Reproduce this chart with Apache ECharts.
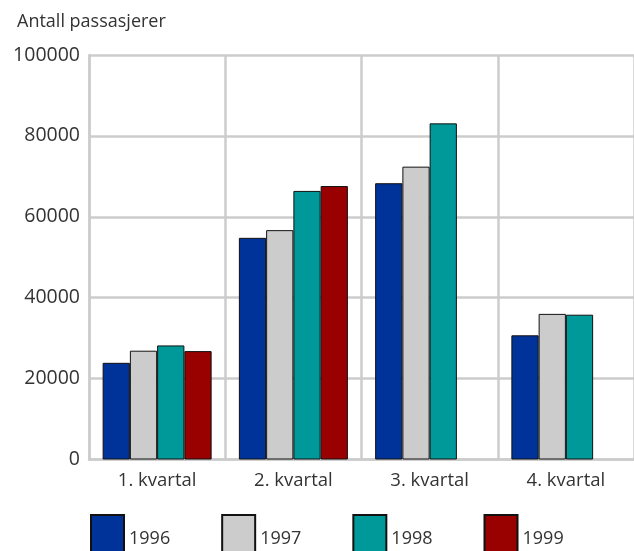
<!DOCTYPE html>
<html>
<head>
<meta charset="utf-8">
<script src="https://cdn.jsdelivr.net/npm/echarts@6/dist/echarts.min.js"></script>
<style>html,body{margin:0;padding:0;background:#fff}#c{width:634px;height:551px}</style>
</head>
<body>
<div id="c"></div>
<script>
const categories = ['1. kvartal', '2. kvartal', '3. kvartal', '4. kvartal'];
const years = ['1996', '1997', '1998', '1999'];
const v1996 = [23900, 54800, 68300, 30700];
const v1997 = [26900, 56700, 72400, 36000];
const v1998 = [28200, 66400, 83100, 35800];
const v1999 = [26800, 67600, null, null];
const yTicks = { min: 0, max: 100000, interval: 20000 };
const colors = ['#003399', '#cccccc', '#009999', '#990000'];
const values = [v1996, v1997, v1998, v1999];

const font = '"Open Sans", "Noto Sans", sans-serif';
const chart = echarts.init(document.getElementById('c'));
chart.setOption({
  animation: false,
  title: {
    text: 'Antall passasjerer', left: 17, top: 13, padding: 0,
    textStyle: { fontFamily: font, fontSize: 18, fontWeight: 'normal', color: '#333' }
  },
  legend: {
    left: 90, top: 514, padding: 0, itemWidth: 33, itemHeight: 48, itemGap: 51,
    icon: 'rect',
    textStyle: { fontFamily: font, fontSize: 18, color: '#333' },
    data: years
  },
  grid: { left: 89, right: -9, top: 55, bottom: 91.5 },
  xAxis: {
    type: 'category', data: categories,
    axisLine: { lineStyle: { color: '#cccccc', width: 2.5 } },
    axisTick: { show: false },
    axisLabel: { fontFamily: font, fontSize: 18.5, color: '#333', margin: 12 },
    splitLine: { show: true, interval: 0, lineStyle: { color: '#cccccc', width: 2.5 } }
  },
  yAxis: {
    type: 'value', min: yTicks.min, max: yTicks.max, interval: yTicks.interval,
    axisLine: { show: true, lineStyle: { color: '#cccccc', width: 2.5 } },
    axisTick: { show: false },
    axisLabel: { fontFamily: font, fontSize: 19.5, color: '#333', margin: 9, formatter: v => String(v) },
    splitLine: { lineStyle: { color: '#cccccc', width: 2.5 } }
  },
  series: years.map((y, i) => ({
    name: y, type: 'bar', data: values[i],
    barGap: '0%', barCategoryGap: '20%',
    itemStyle: { color: colors[i], borderColor: '#111', borderWidth: 1 }
  }))
});
</script>
</body>
</html>
